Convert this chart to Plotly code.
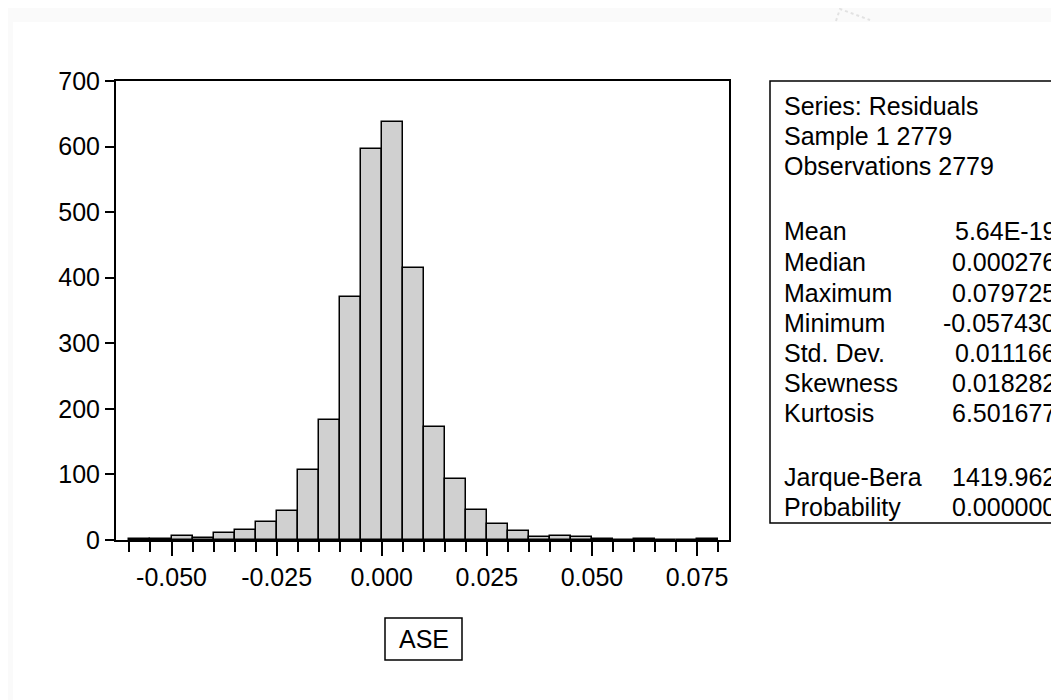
import plotly.graph_objects as go

# ---------------- data ----------------
bin_starts = [-0.060, -0.055, -0.050, -0.045, -0.040, -0.035, -0.030, -0.025,
              -0.020, -0.015, -0.010, -0.005, 0.000, 0.005, 0.010, 0.015,
              0.020, 0.025, 0.030, 0.035, 0.040, 0.045, 0.050, 0.055,
              0.060, 0.065, 0.070, 0.075]
counts = [1, 1, 6, 3, 10, 15, 27, 44,
          106, 183, 371, 597, 638, 415, 173, 93,
          46, 25, 14, 4, 6, 4, 1, 0,
          1, 0, 0, 1]
bin_width = 0.005

x_tickvals = [-0.050, -0.025, 0.000, 0.025, 0.050, 0.075]
x_ticktext = ["-0.050", "-0.025", "0.000", "0.025", "0.050", "0.075"]
y_tickvals = [0, 100, 200, 300, 400, 500, 600, 700]

stat_header = ["Series: Residuals", "Sample 1 2779", "Observations 2779"]
stat_labels = ["Mean", "Median", "Maximum", "Minimum", "Std. Dev.",
               "Skewness", "Kurtosis"]
stat_values = ["5.64E-19", "0.000276", "0.079725", "-0.057430", "0.011166",
               "0.018282", "6.501677"]
test_labels = ["Jarque-Bera", "Probability"]
test_values = ["1419.962", "0.000000"]
axis_title = "ASE"

# ---------------- layout geometry (pixels) ----------------
W_FIG, H_FIG = 1059, 700
L, R, T, B = 108, 721, 73, 532
PW, PH = R - L, B - T


def px(xp):
    return (xp - L) / PW


def py(yp):
    return (B - yp) / PH


FONT = "Liberation Sans, Arial, sans-serif"
FS = 25

centers = [s + bin_width / 2 for s in bin_starts]
minor_ticks = bin_starts + [bin_starts[-1] + bin_width]

fig = go.Figure()
fig.add_trace(go.Bar(
    x=centers, y=counts, width=bin_width,
    marker=dict(color="#d0d0d0", line=dict(color="black", width=1.5)),
    hoverinfo="x+y", showlegend=False,
))

fig.update_layout(
    width=W_FIG, height=H_FIG,
    margin=dict(l=L, r=W_FIG - R, t=T, b=H_FIG - B, autoexpand=False),
    paper_bgcolor="white", plot_bgcolor="white",
    font=dict(family=FONT, size=FS, color="black"),
    bargap=0,
    xaxis=dict(
        range=[-0.0632, 0.0826], tickmode="array", tickvals=x_tickvals,
        ticktext=x_ticktext, ticks="outside", ticklen=14, tickwidth=2,
        tickcolor="black", showline=True, linecolor="black", linewidth=2,
        mirror=True, showgrid=False, zeroline=False,
        tickfont=dict(family=FONT, size=FS, color="black"),
        minor=dict(tickmode="array", tickvals=minor_ticks, ticks="outside",
                   ticklen=10, tickwidth=2, tickcolor="black", showgrid=False),
    ),
    yaxis=dict(
        range=[0, 700], tickmode="array", tickvals=y_tickvals,
        ticks="outside", ticklen=9, tickwidth=2, tickcolor="black",
        showline=True, linecolor="black", linewidth=2, mirror=True,
        showgrid=False, zeroline=False,
        tickfont=dict(family=FONT, size=FS, color="black"),
    ),
)

shapes = []
annotations = []

# faint grey border strips of the original screenshot
shapes.append(dict(type="rect", xref="paper", yref="paper", layer="below",
                   x0=px(0), x1=px(W_FIG), y0=py(14), y1=py(0),
                   line=dict(width=0), fillcolor="#fafafa"))
shapes.append(dict(type="rect", xref="paper", yref="paper", layer="below",
                   x0=px(0), x1=px(5), y0=py(H_FIG), y1=py(0),
                   line=dict(width=0), fillcolor="#fafafa"))
# faint leftover mark at the top edge
shapes.append(dict(type="path", xref="paper", yref="paper", layer="below",
                   path="M {0},{1} L {2},{3} L {4},{5}".format(
                       px(828), py(13), px(832), py(1), px(862), py(12)),
                   line=dict(color="#e2e2e2", width=2, dash="dot")))

# statistics box (extends past the right edge of the image)
box_top, box_bottom = 73, 515
shapes.append(dict(type="rect", xref="paper", yref="paper",
                   x0=px(762), x1=px(1075), y0=py(box_bottom), y1=py(box_top),
                   line=dict(color="black", width=1.5), fillcolor="white",
                   layer="above"))

text_left = 774
value_right = 1050
header_y = [98, 128, 158]
stat_y = [223, 254, 285, 315, 345, 375, 405]
test_y = [469, 499]

for t, yy in zip(stat_header, header_y):
    annotations.append(dict(text=t, x=px(text_left), y=py(yy), xref="paper",
                            yref="paper", xanchor="left", yanchor="middle",
                            showarrow=False, font=dict(size=FS)))
for lab, val, yy in zip(stat_labels + test_labels, stat_values + test_values,
                        stat_y + test_y):
    annotations.append(dict(text=lab, x=px(text_left), y=py(yy), xref="paper",
                            yref="paper", xanchor="left", yanchor="middle",
                            showarrow=False, font=dict(size=FS)))
    annotations.append(dict(text=val, x=px(value_right), y=py(yy), xref="paper",
                            yref="paper", xanchor="right", yanchor="middle",
                            showarrow=False, font=dict(size=FS)))

# axis title box "ASE"
shapes.append(dict(type="rect", xref="paper", yref="paper",
                   x0=px(377), x1=px(454), y0=py(652), y1=py(610),
                   line=dict(color="black", width=1.5), fillcolor="white"))
annotations.append(dict(text=axis_title, x=px(415.5), y=py(631), xref="paper",
                        yref="paper", xanchor="center", yanchor="middle",
                        showarrow=False, font=dict(size=FS)))

fig.update_layout(shapes=shapes, annotations=annotations)
fig.write_html("out.html")
